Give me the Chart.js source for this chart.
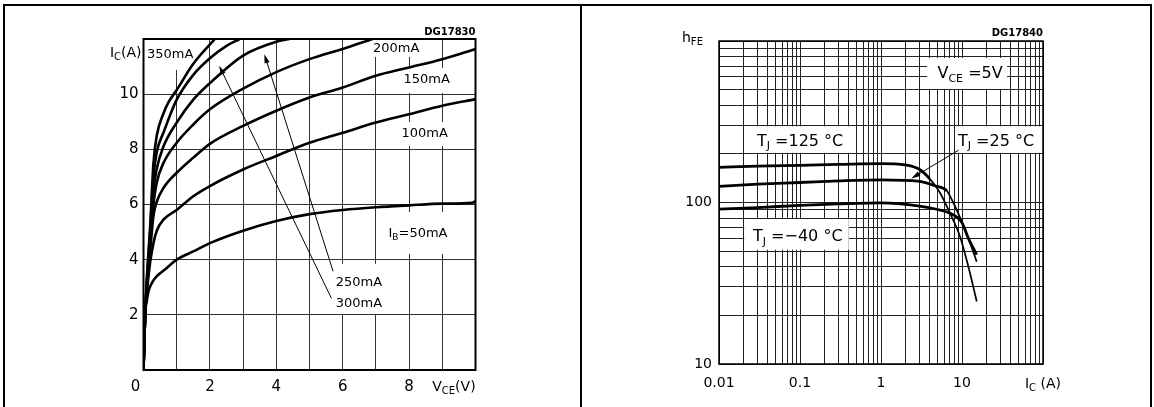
<!DOCTYPE html>
<html>
<head>
<meta charset="utf-8">
<script src="https://cdn.jsdelivr.net/npm/chart.js@4.4.0/dist/chart.umd.min.js"></script>
<style>
html, body { margin: 0; padding: 0; background: #fff; }
body { width: 1154px; height: 407px; position: relative; overflow: hidden; }
#outChart { position: absolute; left: 0; top: 0; }
#gainChart { position: absolute; left: 580px; top: 0; }
.rule { position: absolute; background: #000; }
</style>
</head>
<body>
<canvas id="outChart" width="580" height="407"></canvas>
<canvas id="gainChart" width="574" height="407"></canvas>
<div class="rule" style="left:3px;top:4px;width:1149px;height:2px"></div>
<div class="rule" style="left:3px;top:4px;width:2px;height:403px"></div>
<div class="rule" style="left:580px;top:4px;width:2px;height:403px"></div>
<div class="rule" style="left:1150px;top:4px;width:2px;height:403px"></div>
<script>
// output characteristics, Ic (A) vs Vce (V), one curve per base current
const vce50  = [0, 0.05, 0.1, 0.15, 0.25, 0.4, 0.55, 0.7, 1, 1.5, 2, 3, 4, 5, 6, 7, 8, 9, 9.9, 10];
const ic50   = [0, 2.0, 2.5, 2.85, 3.15, 3.4, 3.55, 3.7, 4.0, 4.3, 4.6, 5.05, 5.4, 5.65, 5.8, 5.9, 5.97, 6.03, 6.06, 6.12];
const vce100 = [0, 0.05, 0.1, 0.2, 0.3, 0.4, 0.6, 1, 1.5, 2, 3, 4, 5, 6, 7, 8, 9, 10];
const ic100  = [0, 2.0, 2.8, 3.9, 4.6, 5.05, 5.45, 5.8, 6.3, 6.67, 7.27, 7.76, 8.24, 8.6, 8.97, 9.27, 9.58, 9.82];
const vce150 = [0, 0.05, 0.1, 0.2, 0.3, 0.4, 0.6, 1, 1.5, 2, 3, 4, 5, 6, 7, 8, 9, 10];
const ic150  = [0, 2.0, 2.9, 4.3, 5.6, 6.1, 6.6, 7.15, 7.7, 8.2, 8.85, 9.4, 9.88, 10.24, 10.67, 10.97, 11.27, 11.64];
const vce200 = [0, 0.05, 0.1, 0.2, 0.3, 0.4, 0.6, 1, 1.5, 2, 3, 4, 5, 6, 6.9];
const ic200  = [0, 2.0, 3.0, 4.6, 6.0, 6.8, 7.5, 8.24, 8.9, 9.45, 10.2, 10.8, 11.27, 11.64, 12];
const vce250 = [0, 0.05, 0.1, 0.2, 0.3, 0.4, 0.6, 1, 1.5, 2, 3, 4, 4.4];
const ic250  = [0, 2.0, 3.1, 4.8, 6.5, 7.3, 8.1, 8.97, 9.8, 10.4, 11.4, 11.9, 12];
const vce300 = [0, 0.05, 0.1, 0.2, 0.3, 0.4, 0.6, 1, 1.5, 2, 2.5, 2.9];
const ic300  = [0, 2.0, 3.2, 5.0, 7.0, 7.9, 8.6, 9.8, 10.7, 11.3, 11.75, 12];
const vce350 = [0, 0.05, 0.1, 0.2, 0.3, 0.4, 0.6, 0.75, 1, 1.5, 2.15];
const ic350  = [0, 2.0, 3.3, 5.2, 7.5, 8.5, 9.3, 9.7, 10.15, 11.1, 12];

// dc current gain, hFE vs Ic (A), Vce = 5V
const icHot   = [0.01, 0.03, 0.1, 0.3, 1, 2, 3, 4, 5.35, 7.1, 9.4, 12, 15.2];
const hfeHot  = [165, 168, 170, 172, 174, 171, 160, 140, 115, 86, 62, 40, 24.4];
const icRoom  = [0.01, 0.03, 0.1, 0.3, 1, 3, 4.6, 6.5, 7.5, 9.9, 12.6, 15.2];
const hfeRoom = [126, 130, 133, 136, 138, 135, 127, 118, 104, 76.5, 56, 43];
const icCold  = [0.01, 0.03, 0.1, 0.3, 1, 3, 5, 7, 10, 12, 15.2];
const hfeCold = [91, 93, 96, 98, 99.5, 95, 90.5, 86, 75, 60, 47.5];

// tick labels
const vceTicks = [2, 4, 6, 8];
const icTicks = [2, 4, 6, 8, 10];
const icLogTicks = [0.01, 0.1, 1, 10];
const hfeTicks = [10, 100];

const FONT = '"DejaVu Sans"';

function pts(xs, ys) {
    return xs.map(function (x, k) { return { x: x, y: ys[k] }; });
}

// text with subscripts: parts = [[text, isSub], ...]
function drawRich(ctx, parts, x, y, size, align) {
    var sub = Math.round(size * 0.7);
    var w = 0;
    parts.forEach(function (p) {
        ctx.font = (p[1] ? sub : size) + 'px ' + FONT;
        w += ctx.measureText(p[0]).width;
    });
    var cx = align === 'right' ? x - w : (align === 'center' ? x - w / 2 : x);
    ctx.textAlign = 'left';
    ctx.textBaseline = 'alphabetic';
    ctx.fillStyle = '#000';
    parts.forEach(function (p) {
        ctx.font = (p[1] ? sub : size) + 'px ' + FONT;
        ctx.fillText(p[0], cx, y + (p[1] ? size * 0.22 : 0));
        cx += ctx.measureText(p[0]).width;
    });
}

function drawArrow(ctx, x1, y1, x2, y2) {
    var a = Math.atan2(y2 - y1, x2 - x1);
    ctx.save();
    ctx.strokeStyle = '#000';
    ctx.fillStyle = '#000';
    ctx.lineWidth = 1;
    ctx.beginPath();
    ctx.moveTo(x1, y1);
    ctx.lineTo(x2 - 6 * Math.cos(a), y2 - 6 * Math.sin(a));
    ctx.stroke();
    ctx.beginPath();
    ctx.moveTo(x2, y2);
    ctx.lineTo(x2 - 9 * Math.cos(a) + 2.6 * Math.sin(a), y2 - 9 * Math.sin(a) - 2.6 * Math.cos(a));
    ctx.lineTo(x2 - 9 * Math.cos(a) - 2.6 * Math.sin(a), y2 - 9 * Math.sin(a) + 2.6 * Math.cos(a));
    ctx.closePath();
    ctx.fill();
    ctx.restore();
}

function logGrid(lo, hi) {
    var out = [];
    for (var e = Math.round(Math.log10(lo)); e < Math.round(Math.log10(hi)); e++) {
        for (var s = 1; s < 10; s++) out.push({ value: parseFloat((s * Math.pow(10, e)).toPrecision(6)) });
    }
    out.push({ value: hi });
    return out;
}

function near(a, b) { return Math.abs(a - b) < 1e-9 * Math.max(1, Math.abs(b)); }

// notes for left chart (in data units)
const outBoxes = [
    [0.05, 1.7, 10.88, 11.96],
    [6.76, 8.57, 11.35, 11.96],
    [7.67, 9.47, 10.04, 10.95],
    [7.64, 9.41, 8.12, 8.99],
    [7.06, 9.47, 4.21, 5.73],
    [5.62, 7.42, 2.03, 3.85]
];
const outNotes = [
    { parts: [['350mA', 0]], v: 0.105, i: 11.31 },
    { parts: [['200mA', 0]], v: 6.91, i: 11.53 },
    { parts: [['150mA', 0]], v: 7.83, i: 10.41 },
    { parts: [['100mA', 0]], v: 7.77, i: 8.45 },
    { parts: [['I', 0], ['B', 1], ['=50mA', 0]], v: 7.38, i: 4.82 },
    { parts: [['250mA', 0]], v: 5.79, i: 3.03 },
    { parts: [['300mA', 0]], v: 5.79, i: 2.28 }
];
const outArrows = [
    [5.66, 2.6, 2.28, 11.03],
    [5.71, 3.58, 3.64, 11.45]
];

var outDecor = {
    id: 'outDecor',
    beforeDatasetsDraw: function (chart) {
        var ctx = chart.ctx, sx = chart.scales.x, sy = chart.scales.y;
        ctx.save();
        ctx.fillStyle = '#fff';
        outBoxes.forEach(function (b) {
            var x1 = sx.getPixelForValue(b[0]), x2 = sx.getPixelForValue(b[1]);
            var y1 = sy.getPixelForValue(b[3]), y2 = sy.getPixelForValue(b[2]);
            ctx.fillRect(x1, y1, x2 - x1, y2 - y1);
        });
        ctx.restore();
    },
    afterDatasetsDraw: function (chart) {
        var ctx = chart.ctx, sx = chart.scales.x, sy = chart.scales.y, a = chart.chartArea;
        ctx.save();
        ctx.strokeStyle = '#000';
        ctx.lineWidth = 2;
        ctx.strokeRect(a.left, a.top, a.right - a.left, a.bottom - a.top);
        outArrows.forEach(function (r) {
            drawArrow(ctx, sx.getPixelForValue(r[0]), sy.getPixelForValue(r[1]),
                sx.getPixelForValue(r[2]), sy.getPixelForValue(r[3]));
        });
        outNotes.forEach(function (n) {
            drawRich(ctx, n.parts, sx.getPixelForValue(n.v), sy.getPixelForValue(n.i), 13, 'left');
        });
        // axis titles
        drawRich(ctx, [['I', 0], ['C', 1], ['(A)', 0]], a.left - 2, a.top + 18, 14, 'right');
        drawRich(ctx, [['V', 0], ['CE', 1], ['(V)', 0]], sx.getPixelForValue(9.35), a.bottom + 21, 14, 'center');
        drawRich(ctx, [['0', 0]], a.left - 8, a.bottom + 21, 15, 'center');
        ctx.font = 'bold 10px ' + FONT;
        ctx.textAlign = 'right';
        ctx.fillText('DG17830', a.right, a.top - 4);
        ctx.restore();
    }
};

function lineSet(xs, ys) {
    return { data: pts(xs, ys), borderColor: '#000', borderWidth: 2.6, pointRadius: 0,
        tension: 0.4, cubicInterpolationMode: 'monotone', fill: false };
}

new Chart(document.getElementById('outChart'), {
    type: 'line',
    data: {
        datasets: [
            lineSet(vce50, ic50), lineSet(vce100, ic100), lineSet(vce150, ic150),
            lineSet(vce200, ic200), lineSet(vce250, ic250), lineSet(vce300, ic300),
            lineSet(vce350, ic350)
        ]
    },
    options: {
        responsive: false,
        animation: false,
        layout: { padding: { left: 100, top: 39, right: 104.5, bottom: 0 } },
        plugins: { legend: { display: false }, tooltip: { enabled: false } },
        scales: {
            x: {
                type: 'linear', min: 0, max: 10,
                afterFit: function (s) { s.height = 37; },
                ticks: {
                    stepSize: 1, padding: 8, color: '#000', maxRotation: 0, autoSkip: false,
                    font: { family: 'DejaVu Sans', size: 15 },
                    callback: function (v) { return vceTicks.indexOf(v) >= 0 ? String(v) : ''; }
                },
                grid: { color: '#333', lineWidth: 1, drawTicks: false },
                border: { display: false }
            },
            y: {
                min: 0, max: 12,
                afterFit: function (s) { s.width = 43.5; },
                ticks: {
                    stepSize: 2, padding: 5, color: '#000', autoSkip: false,
                    font: { family: 'DejaVu Sans', size: 15 },
                    callback: function (v) { return icTicks.indexOf(v) >= 0 ? String(v) : ''; }
                },
                grid: { color: '#333', lineWidth: 1, drawTicks: false },
                border: { display: false }
            }
        }
    },
    plugins: [outDecor]
});

// notes for right chart (in data units)
const gainBoxes = [
    [3.7, 36, 505, 785],
    [0.025, 0.49, 203, 296],
    [8.2, 98, 203, 296],
    [0.0205, 0.4, 51, 79]
];
const gainNotes = [
    { parts: [['V', 0], ['CE', 1], [' =5V', 0]], ic: 4.98, h: 589 },
    { parts: [['T', 0], ['J', 1], [' =125 \u00b0C', 0]], ic: 0.0294, h: 224 },
    { parts: [['T', 0], ['J', 1], [' =25 \u00b0C', 0]], ic: 8.93, h: 224 },
    { parts: [['T', 0], ['J', 1], [' =\u221240 \u00b0C', 0]], ic: 0.0263, h: 57.5 }
];
const gainArrow = [9.1, 211, 2.37, 141];

var gainDecor = {
    id: 'gainDecor',
    beforeDatasetsDraw: function (chart) {
        var ctx = chart.ctx, sx = chart.scales.x, sy = chart.scales.y;
        ctx.save();
        ctx.fillStyle = '#fff';
        gainBoxes.forEach(function (b) {
            var x1 = sx.getPixelForValue(b[0]), x2 = sx.getPixelForValue(b[1]);
            var y1 = sy.getPixelForValue(b[3]), y2 = sy.getPixelForValue(b[2]);
            ctx.fillRect(x1, y1, x2 - x1, y2 - y1);
        });
        ctx.restore();
    },
    afterDatasetsDraw: function (chart) {
        var ctx = chart.ctx, sx = chart.scales.x, sy = chart.scales.y, a = chart.chartArea;
        ctx.save();
        ctx.strokeStyle = '#000';
        ctx.lineWidth = 1.5;
        ctx.strokeRect(a.left, a.top, a.right - a.left, a.bottom - a.top);
        drawArrow(ctx, sx.getPixelForValue(gainArrow[0]), sy.getPixelForValue(gainArrow[1]),
            sx.getPixelForValue(gainArrow[2]), sy.getPixelForValue(gainArrow[3]));
        gainNotes.forEach(function (n) {
            drawRich(ctx, n.parts, sx.getPixelForValue(n.ic), sy.getPixelForValue(n.h), 16, 'left');
        });
        drawRich(ctx, [['h', 0], ['FE', 1]], a.left - 37, a.top + 1, 14, 'left');
        drawRich(ctx, [['I', 0], ['C', 1], [' (A)', 0]], a.right, a.bottom + 24, 14, 'center');
        ctx.font = 'bold 10px ' + FONT;
        ctx.textAlign = 'right';
        ctx.fillText('DG17840', a.right, a.top - 5);
        ctx.restore();
    }
};

function gainSet(xs, ys, knee) {
    return { data: pts(xs, ys), borderColor: '#000', borderWidth: 2.8, pointRadius: 0,
        tension: 0.4, cubicInterpolationMode: 'monotone', fill: false,
        segment: { borderWidth: function (c) { return c.p0.parsed.x >= knee ? 1.7 : 2.8; } } };
}

new Chart(document.getElementById('gainChart'), {
    type: 'line',
    data: {
        datasets: [
            gainSet(icHot, hfeHot, 4),
            gainSet(icRoom, hfeRoom, 6),
            gainSet(icCold, hfeCold, 100)
        ]
    },
    options: {
        responsive: false,
        animation: false,
        layout: { padding: { left: 95, top: 41, right: 111, bottom: 0 } },
        plugins: { legend: { display: false }, tooltip: { enabled: false } },
        scales: {
            x: {
                type: 'logarithmic', min: 0.01, max: 100,
                afterFit: function (s) { s.height = 43; },
                afterBuildTicks: function (s) { s.ticks = logGrid(0.01, 100); },
                ticks: {
                    padding: 11, color: '#000', maxRotation: 0, autoSkip: false,
                    font: { family: 'DejaVu Sans', size: 14 },
                    callback: function (v) {
                        for (var k = 0; k < icLogTicks.length; k++) if (near(v, icLogTicks[k])) return String(icLogTicks[k]);
                        return '';
                    }
                },
                grid: { color: '#222', lineWidth: 1, drawTicks: false },
                border: { display: false }
            },
            y: {
                type: 'logarithmic', min: 10, max: 1000,
                afterFit: function (s) { s.width = 44; },
                afterBuildTicks: function (s) { s.ticks = logGrid(10, 1000); },
                ticks: {
                    padding: 7, color: '#000', autoSkip: false,
                    font: { family: 'DejaVu Sans', size: 14 },
                    callback: function (v) {
                        for (var k = 0; k < hfeTicks.length; k++) if (near(v, hfeTicks[k])) return String(hfeTicks[k]);
                        return '';
                    }
                },
                grid: { color: '#222', lineWidth: 1, drawTicks: false },
                border: { display: false }
            }
        }
    },
    plugins: [gainDecor]
});
</script>
</body>
</html>
